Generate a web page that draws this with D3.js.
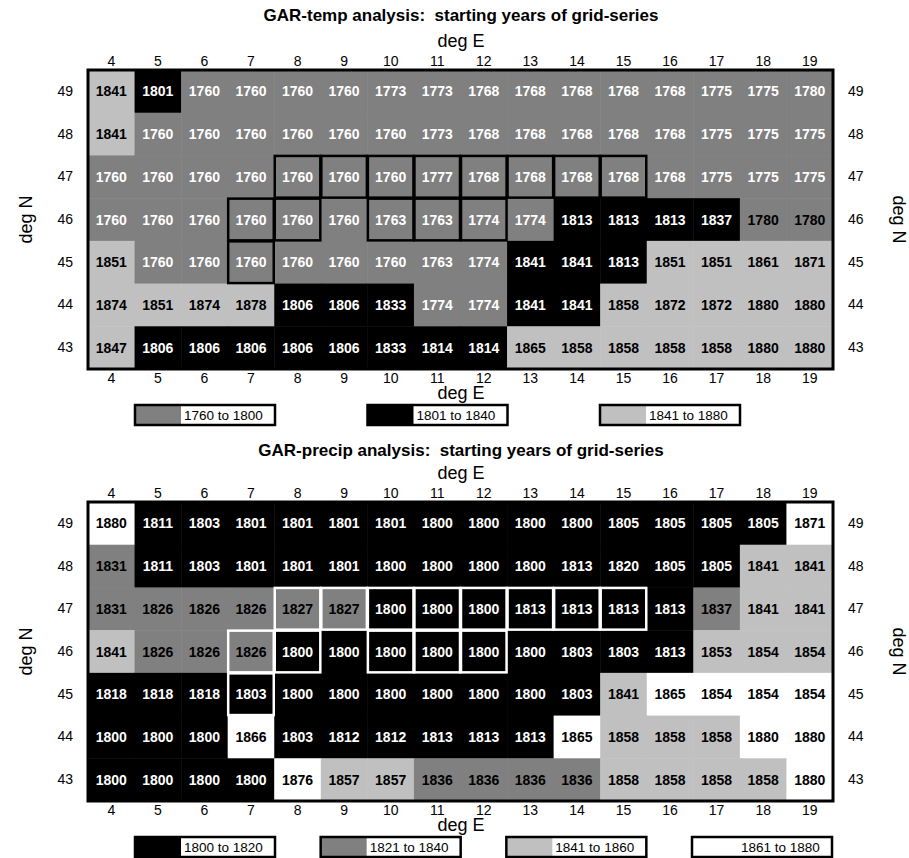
<!DOCTYPE html>
<html>
<head>
<meta charset="utf-8">
<script src="https://cdn.jsdelivr.net/npm/d3@7/dist/d3.min.js"></script>
<style>
body { margin: 0; background: #fff; }
text { font-family: "Liberation Sans", Arial, sans-serif; }
</style>
</head>
<body>
<svg id="chart" width="909" height="858"></svg>
<script>
const lons = [4, 5, 6, 7, 8, 9, 10, 11, 12, 13, 14, 15, 16, 17, 18, 19];
const lats = [49, 48, 47, 46, 45, 44, 43];

// GAR-temp starting years, rows 49..43
const tempYears = [
  [1841, 1801, 1760, 1760, 1760, 1760, 1773, 1773, 1768, 1768, 1768, 1768, 1768, 1775, 1775, 1780],
  [1841, 1760, 1760, 1760, 1760, 1760, 1760, 1773, 1768, 1768, 1768, 1768, 1768, 1775, 1775, 1775],
  [1760, 1760, 1760, 1760, 1760, 1760, 1760, 1777, 1768, 1768, 1768, 1768, 1768, 1775, 1775, 1775],
  [1760, 1760, 1760, 1760, 1760, 1760, 1763, 1763, 1774, 1774, 1813, 1813, 1813, 1837, 1780, 1780],
  [1851, 1760, 1760, 1760, 1760, 1760, 1760, 1763, 1774, 1841, 1841, 1813, 1851, 1851, 1861, 1871],
  [1874, 1851, 1874, 1878, 1806, 1806, 1833, 1774, 1774, 1841, 1841, 1858, 1872, 1872, 1880, 1880],
  [1847, 1806, 1806, 1806, 1806, 1806, 1833, 1814, 1814, 1865, 1858, 1858, 1858, 1858, 1880, 1880]
];
// shading class per cell: k black, g grey, l light grey, w white
const tempClasses = [
  "lkgggggggggggggg",
  "lggggggggggggggg",
  "gggggggggggggggg",
  "ggggggggggkkkkgg",
  "lggggggggkkkllll",
  "llllkkkggkklllll",
  "lkkkkkkkklllllll"
];
const tempDarkText = [[46, 18], [46, 19]];
const tempLegend = ["1760 to 1800", "1801 to 1840", "1841 to 1880"];
const tempLegendClasses = ["g", "k", "l"];

// GAR-precip starting years, rows 49..43
const precipYears = [
  [1880, 1811, 1803, 1801, 1801, 1801, 1801, 1800, 1800, 1800, 1800, 1805, 1805, 1805, 1805, 1871],
  [1831, 1811, 1803, 1801, 1801, 1801, 1800, 1800, 1800, 1800, 1813, 1820, 1805, 1805, 1841, 1841],
  [1831, 1826, 1826, 1826, 1827, 1827, 1800, 1800, 1800, 1813, 1813, 1813, 1813, 1837, 1841, 1841],
  [1841, 1826, 1826, 1826, 1800, 1800, 1800, 1800, 1800, 1800, 1803, 1803, 1813, 1853, 1854, 1854],
  [1818, 1818, 1818, 1803, 1800, 1800, 1800, 1800, 1800, 1800, 1803, 1841, 1865, 1854, 1854, 1854],
  [1800, 1800, 1800, 1866, 1803, 1812, 1812, 1813, 1813, 1813, 1865, 1858, 1858, 1858, 1880, 1880],
  [1800, 1800, 1800, 1800, 1876, 1857, 1857, 1836, 1836, 1836, 1836, 1858, 1858, 1858, 1858, 1880]
];
const precipClasses = [
  "wkkkkkkkkkkkkkkw",
  "gkkkkkkkkkkkkkll",
  "ggggggkkkkkkkgll",
  "lgggkkkkkkkkklll",
  "kkkkkkkkkkklwwww",
  "kkkwkkkkkkwlllww",
  "kkkkwllggggllllw"
];
const precipLegend = ["1800 to 1820", "1821 to 1840", "1841 to 1860", "1861 to 1880"];
const precipLegendClasses = ["k", "g", "l", "w"];

// outlined grid cells [lat, lon]
const boxedCells = [
  [47, 8], [47, 9], [47, 10], [47, 11], [47, 12], [47, 13], [47, 14], [47, 15],
  [46, 7], [46, 8], [46, 10], [46, 11], [46, 12],
  [45, 7]
];

const fills = { k: "#000000", g: "#808080", l: "#c0c0c0", w: "#ffffff" };

const svg = d3.select("#chart");

const drawPanel = (o) => {
  const g = svg.append("g");
  const x = d3.scaleBand().domain(lons).range([88, 833]);
  const y = d3.scaleBand().domain(lats).range([o.top, o.top + 299]);

  const cells = [];
  lats.forEach((lat, i) => {
    lons.forEach((lon, j) => {
      cells.push({ lat, lon, year: o.years[i][j], cls: o.classes[i][j] });
    });
  });
  const dark = new Set(o.darkText.map((d) => d.join("-")));

  g.selectAll("rect.cell")
    .data(cells)
    .join("rect")
    .attr("x", (d) => x(d.lon))
    .attr("y", (d) => y(d.lat))
    .attr("width", x.bandwidth() + 0.5)
    .attr("height", y.bandwidth() + 0.5)
    .attr("fill", (d) => fills[d.cls]);

  g.selectAll("rect.box")
    .data(boxedCells)
    .join("rect")
    .attr("x", (d) => x(d[1]) + 0.5)
    .attr("y", (d) => y(d[0]) + 0.5)
    .attr("width", x.bandwidth() - 1)
    .attr("height", y.bandwidth() - 1)
    .attr("fill", "none")
    .attr("stroke", o.boxColor)
    .attr("stroke-width", 2.5);

  g.selectAll("text.val")
    .data(cells)
    .join("text")
    .attr("x", (d) => x(d.lon) + x.bandwidth() / 2)
    .attr("y", (d) => y(d.lat) + y.bandwidth() / 2)
    .attr("dy", "0.36em")
    .attr("text-anchor", "middle")
    .attr("font-size", 14)
    .attr("font-weight", "bold")
    .attr("fill", (d) => {
      if (dark.has(d.lat + "-" + d.lon)) return "#000";
      return o.whiteText.includes(d.cls) ? "#fff" : "#000";
    })
    .text((d) => d.year);

  g.append("rect")
    .attr("x", 88)
    .attr("y", o.top)
    .attr("width", 745)
    .attr("height", 299)
    .attr("fill", "none")
    .attr("stroke", "#000")
    .attr("stroke-width", 3);

  const styleAxis = (sel) => {
    sel.select(".domain").remove();
    sel.selectAll("text").attr("font-size", 14).attr("font-family", null).attr("fill", "#000");
  };

  g.append("g").attr("transform", `translate(0,${o.top})`)
    .call(d3.axisTop(x).tickSize(0).tickPadding(4)).call(styleAxis);
  g.append("g").attr("transform", `translate(0,${o.top + 299})`)
    .call(d3.axisBottom(x).tickSize(0).tickPadding(4)).call(styleAxis);
  g.append("g").attr("transform", "translate(88,0)")
    .call(d3.axisLeft(y).tickSize(0).tickPadding(15)).call(styleAxis);
  g.append("g").attr("transform", "translate(833,0)")
    .call(d3.axisRight(y).tickSize(0).tickPadding(15)).call(styleAxis);

  g.append("text")
    .attr("x", 461)
    .attr("y", o.titleY)
    .attr("text-anchor", "middle")
    .attr("font-size", 17)
    .attr("font-weight", "bold")
    .style("white-space", "pre")
    .text(o.title);

  g.append("text").attr("x", 461).attr("y", o.top - 23)
    .attr("text-anchor", "middle").attr("font-size", 18).text("deg E");
  g.append("text").attr("x", 461).attr("y", o.top + 299 + 30)
    .attr("text-anchor", "middle").attr("font-size", 18).text("deg E");

  const midY = o.top + 149.5;
  g.append("text")
    .attr("transform", `translate(32,${midY}) rotate(-90)`)
    .attr("text-anchor", "middle").attr("font-size", 18).text("deg N");
  g.append("text")
    .attr("transform", `translate(893,${midY}) rotate(90)`)
    .attr("text-anchor", "middle").attr("font-size", 18).text("deg N");

  // legend
  const lx = d3.scalePoint().domain(o.legend).range(o.legendRange);
  const ly = o.top + 299 + 36;
  const items = g.selectAll("g.leg")
    .data(o.legend)
    .join("g")
    .attr("transform", (d) => `translate(${lx(d) - 70},${ly})`);
  items.append("rect")
    .attr("width", 140).attr("height", 20)
    .attr("fill", "#fff");
  items.append("rect")
    .attr("width", 46).attr("height", 20)
    .attr("fill", (d, i) => fills[o.legendClasses[i]]);
  items.append("rect")
    .attr("width", 140).attr("height", 20)
    .attr("fill", "none").attr("stroke", "#000").attr("stroke-width", 2.5);
  items.append("text")
    .attr("x", 49).attr("y", 15)
    .attr("font-size", 13.5)
    .text((d) => d);
};

drawPanel({
  top: 70,
  titleY: 21,
  title: "GAR-temp analysis:  starting years of grid-series",
  years: tempYears,
  classes: tempClasses,
  darkText: tempDarkText,
  whiteText: ["k", "g"],
  boxColor: "#000",
  legend: tempLegend,
  legendClasses: tempLegendClasses,
  legendRange: [205, 670]
});

drawPanel({
  top: 502,
  titleY: 456,
  title: "GAR-precip analysis:  starting years of grid-series",
  years: precipYears,
  classes: precipClasses,
  darkText: [],
  whiteText: ["k"],
  boxColor: "#fff",
  legend: precipLegend,
  legendClasses: precipLegendClasses,
  legendRange: [205, 762]
});
</script>
</body>
</html>
